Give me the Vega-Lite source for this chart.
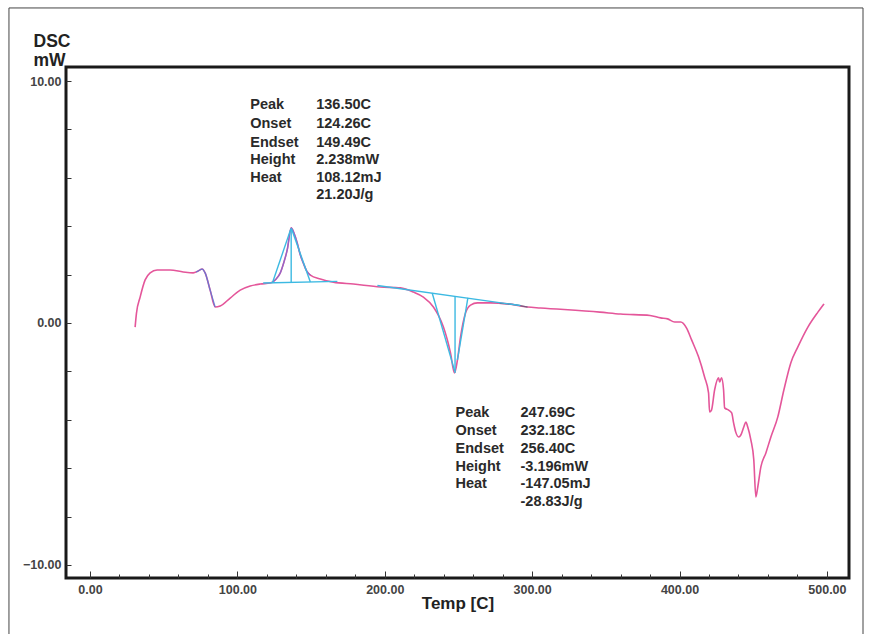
{
  "$schema": "https://vega.github.io/schema/vega-lite/v6.json",
  "width": 783,
  "height": 511,
  "autosize": {"type": "none"},
  "padding": {"left": 66, "top": 67, "right": 22, "bottom": 56},
  "background": "white",
  "config": {
    "view": {"stroke": "#1a1a1a", "strokeWidth": 3},
    "font": "Liberation Sans"
  },
  "resolve": {"axis": {"x": "independent"}},
  "datasets": {
    "curve": [
      {"T": 30.6, "v": -0.17}, {"T": 31.5, "v": 0.4}, {"T": 34.0, "v": 1.07}, {"T": 37.4, "v": 1.78},
      {"T": 40.8, "v": 2.07}, {"T": 45.5, "v": 2.19}, {"T": 54.3, "v": 2.19}, {"T": 63.2, "v": 2.11},
      {"T": 70.0, "v": 2.07}, {"T": 73.4, "v": 2.15}, {"T": 76.1, "v": 2.23}, {"T": 78.1, "v": 2.07},
      {"T": 81.5, "v": 1.36}, {"T": 84.9, "v": 0.66}, {"T": 88.3, "v": 0.70}, {"T": 95.1, "v": 1.03},
      {"T": 101.9, "v": 1.36}, {"T": 108.7, "v": 1.53}, {"T": 115.5, "v": 1.61}, {"T": 122.3, "v": 1.65},
      {"T": 126.0, "v": 1.8}, {"T": 129.1, "v": 2.07}, {"T": 131.5, "v": 2.5}, {"T": 133.8, "v": 3.02},
      {"T": 136.5, "v": 3.93}, {"T": 138.5, "v": 3.7}, {"T": 140.6, "v": 3.31}, {"T": 142.5, "v": 2.85},
      {"T": 144.7, "v": 2.48}, {"T": 147.0, "v": 2.15}, {"T": 149.5, "v": 1.98}, {"T": 156.3, "v": 1.82},
      {"T": 165.1, "v": 1.69}, {"T": 178.7, "v": 1.61}, {"T": 197.0, "v": 1.49}, {"T": 210.6, "v": 1.45},
      {"T": 219.4, "v": 1.28}, {"T": 226.2, "v": 1.07}, {"T": 233.0, "v": 0.66}, {"T": 236.5, "v": 0.3},
      {"T": 239.8, "v": -0.17}, {"T": 244.6, "v": -1.24}, {"T": 247.3, "v": -2.07}, {"T": 249.3, "v": -1.53},
      {"T": 251.4, "v": -0.58}, {"T": 254.8, "v": 0.41}, {"T": 258.2, "v": 0.74}, {"T": 262.9, "v": 0.83},
      {"T": 271.7, "v": 0.83}, {"T": 283.3, "v": 0.79}, {"T": 296.9, "v": 0.66}, {"T": 305.7, "v": 0.62},
      {"T": 346.0, "v": 0.45}, {"T": 360.0, "v": 0.37}, {"T": 380.0, "v": 0.31}, {"T": 387.2, "v": 0.21},
      {"T": 391.9, "v": 0.17}, {"T": 396.7, "v": 0.04}, {"T": 400.8, "v": 0.04}, {"T": 404.8, "v": -0.21},
      {"T": 408.2, "v": -0.70}, {"T": 412.9, "v": -1.40}, {"T": 417.0, "v": -2.23}, {"T": 419.7, "v": -2.89},
      {"T": 420.4, "v": -3.68}, {"T": 421.7, "v": -3.60}, {"T": 423.8, "v": -2.77}, {"T": 426.5, "v": -2.27},
      {"T": 427.2, "v": -2.44}, {"T": 428.5, "v": -2.27}, {"T": 429.9, "v": -2.77}, {"T": 430.6, "v": -3.51},
      {"T": 433.3, "v": -3.60}, {"T": 435.4, "v": -3.72}, {"T": 436.7, "v": -4.13}, {"T": 438.1, "v": -4.50},
      {"T": 440.2, "v": -4.71}, {"T": 441.6, "v": -4.63}, {"T": 443.6, "v": -4.30}, {"T": 445.0, "v": -4.09},
      {"T": 446.3, "v": -4.30}, {"T": 448.4, "v": -4.83}, {"T": 450.4, "v": -5.66}, {"T": 451.8, "v": -7.19},
      {"T": 453.1, "v": -6.78}, {"T": 455.2, "v": -5.95}, {"T": 458.6, "v": -5.37}, {"T": 462.0, "v": -4.71},
      {"T": 466.7, "v": -3.88}, {"T": 470.8, "v": -2.77}, {"T": 475.5, "v": -1.65}, {"T": 480.3, "v": -0.99},
      {"T": 487.1, "v": -0.17}, {"T": 493.9, "v": 0.45}, {"T": 498.0, "v": 0.79}
    ],
    "bump": [
      {"T": 72.0, "v": 2.1}, {"T": 73.4, "v": 2.15}, {"T": 76.1, "v": 2.23}, {"T": 78.1, "v": 2.07},
      {"T": 81.5, "v": 1.36}, {"T": 84.9, "v": 0.66}
    ],
    "peak1": [
      {"T": 124.3, "v": 1.7}, {"T": 126.0, "v": 1.8}, {"T": 129.1, "v": 2.07}, {"T": 131.5, "v": 2.5},
      {"T": 133.8, "v": 3.02}, {"T": 136.5, "v": 3.93}, {"T": 138.5, "v": 3.7}, {"T": 140.6, "v": 3.31},
      {"T": 142.5, "v": 2.85}, {"T": 144.7, "v": 2.48}, {"T": 147.0, "v": 2.15}, {"T": 149.5, "v": 1.98}
    ],
    "tail2": [
      {"T": 278.0, "v": 0.81}, {"T": 283.3, "v": 0.79}, {"T": 296.9, "v": 0.66}
    ],
    "rules": [
      {"T": 117.5, "v": 1.65, "T2": 167.8, "v2": 1.72},
      {"T": 136.5, "v": 1.67, "T2": 136.5, "v2": 3.93},
      {"T": 123.8, "v": 1.66, "T2": 136.2, "v2": 3.88},
      {"T": 149.5, "v": 1.69, "T2": 136.8, "v2": 3.88},
      {"T": 195.0, "v": 1.55, "T2": 292.0, "v2": 0.72},
      {"T": 247.69, "v": 1.11, "T2": 247.69, "v2": -2.07},
      {"T": 232.18, "v": 1.24, "T2": 247.5, "v2": -2.0},
      {"T": 256.4, "v": 1.04, "T2": 249.3, "v2": -1.53}
    ],
    "notes": [
      {"T": 108.7, "v": 9.01, "text": "Peak"},
      {"T": 108.7, "v": 8.22, "text": "Onset"},
      {"T": 108.7, "v": 7.44, "text": "Endset"},
      {"T": 108.7, "v": 6.74, "text": "Height"},
      {"T": 108.7, "v": 5.99, "text": "Heat"},
      {"T": 153.5, "v": 9.01, "text": "136.50C"},
      {"T": 153.5, "v": 8.22, "text": "124.26C"},
      {"T": 153.5, "v": 7.44, "text": "149.49C"},
      {"T": 153.5, "v": 6.74, "text": "2.238mW"},
      {"T": 153.5, "v": 5.99, "text": "108.12mJ"},
      {"T": 153.5, "v": 5.29, "text": "21.20J/g"},
      {"T": 248.0, "v": -3.72, "text": "Peak"},
      {"T": 248.0, "v": -4.46, "text": "Onset"},
      {"T": 248.0, "v": -5.21, "text": "Endset"},
      {"T": 248.0, "v": -5.95, "text": "Height"},
      {"T": 248.0, "v": -6.65, "text": "Heat"},
      {"T": 292.1, "v": -3.72, "text": "247.69C"},
      {"T": 292.1, "v": -4.46, "text": "232.18C"},
      {"T": 292.1, "v": -5.21, "text": "256.40C"},
      {"T": 292.1, "v": -5.95, "text": "-3.196mW"},
      {"T": 292.1, "v": -6.65, "text": "-147.05mJ"},
      {"T": 292.1, "v": -7.40, "text": "-28.83J/g"}
    ],
    "frame": [
      {"T": -55.0, "v": 13.02, "T2": 524.5, "v2": -12.95}
    ]
  },
  "layer": [
    {
      "data": {"name": "curve"},
      "mark": {"type": "line", "color": "#e4569a", "strokeWidth": 1.6, "interpolate": "monotone"},
      "encoding": {
        "x": {
          "field": "T", "type": "quantitative",
          "scale": {"domain": [-16.3, 515], "nice": false, "zero": false},
          "axis": {
            "orient": "bottom",
            "values": [0, 100, 200, 300, 400, 500],
            "format": ".2f",
            "tickSize": -7,
            "tickColor": "#333", "tickWidth": 1,
            "domain": false, "grid": false,
            "labelFont": "Liberation Sans", "labelFontWeight": "bold", "labelFontSize": 12.5, "labelColor": "#444",
            "labelPadding": 12, "labelFlush": false, "labelOverlap": false,
            "title": "Temp [C]", "titleFont": "Liberation Sans", "titleFontSize": 17, "titleFontWeight": "bold", "titleColor": "#222",
            "titlePadding": 0
          }
        },
        "y": {
          "field": "v", "type": "quantitative",
          "scale": {"domain": [-10.54, 10.58], "nice": false, "zero": false},
          "axis": {
            "values": [-10, -8, -6, -4, -2, 0, 2, 4, 6, 8, 10],
            "labelExpr": "datum.value % 10 === 0 ? format(datum.value, '.2f') : ''",
            "tickSize": -5, "tickColor": "#333", "tickWidth": 1,
            "domain": false, "grid": false,
            "labelFont": "Liberation Sans", "labelFontWeight": "bold", "labelFontSize": 12.5, "labelColor": "#444",
            "labelPadding": 10, "labelFlush": false, "labelOverlap": false, "labelBound": false,
            "title": ["DSC", "mW"], "titleAngle": 0, "titleAlign": "left", "titleBaseline": "top",
            "titleX": -33, "titleY": -35, "titleLineHeight": 19,
            "titleFont": "Liberation Sans", "titleFontSize": 17.5, "titleFontWeight": "bold", "titleColor": "#222"
          }
        }
      }
    },
    {
      "data": {"name": "bump"},
      "mark": {"type": "line", "color": "#5b78d6", "strokeWidth": 1.3, "opacity": 0.85, "interpolate": "monotone"},
      "encoding": {
        "x": {
          "field": "T", "type": "quantitative",
          "axis": {
            "orient": "bottom",
            "values": [20, 40, 60, 80, 120, 140, 160, 180, 220, 240, 260, 280, 320, 340, 360, 380, 420, 440, 460, 480],
            "labels": false, "tickSize": -4, "tickColor": "#333", "tickWidth": 1,
            "domain": false, "grid": false, "title": null
          }
        },
        "y": {"field": "v", "type": "quantitative"}
      }
    },
    {
      "data": {"name": "peak1"},
      "mark": {"type": "line", "color": "#7b6cd4", "strokeWidth": 1.3, "opacity": 0.8, "interpolate": "monotone"},
      "encoding": {"x": {"field": "T", "type": "quantitative", "axis": null}, "y": {"field": "v", "type": "quantitative"}}
    },
    {
      "data": {"name": "tail2"},
      "mark": {"type": "line", "color": "#5a5a78", "strokeWidth": 1.3, "opacity": 0.8, "interpolate": "monotone"},
      "encoding": {"x": {"field": "T", "type": "quantitative", "axis": null}, "y": {"field": "v", "type": "quantitative"}}
    },
    {
      "data": {"name": "rules"},
      "mark": {"type": "rule", "color": "#3cb9e2", "strokeWidth": 1.4},
      "encoding": {
        "x": {"field": "T", "type": "quantitative", "axis": null},
        "y": {"field": "v", "type": "quantitative"},
        "x2": {"field": "T2"},
        "y2": {"field": "v2"}
      }
    },
    {
      "data": {"name": "notes"},
      "mark": {"type": "text", "align": "left", "baseline": "middle", "font": "Liberation Sans", "fontWeight": "bold", "fontSize": 14.5, "color": "#2a2a2a"},
      "encoding": {
        "x": {"field": "T", "type": "quantitative", "axis": null},
        "y": {"field": "v", "type": "quantitative"},
        "text": {"field": "text"}
      }
    },
    {
      "data": {"name": "frame"},
      "mark": {"type": "rect", "fill": null, "fillOpacity": 0, "stroke": "#444", "strokeWidth": 1, "clip": false},
      "encoding": {
        "x": {"field": "T", "type": "quantitative", "axis": null},
        "y": {"field": "v", "type": "quantitative"},
        "x2": {"field": "T2"},
        "y2": {"field": "v2"}
      }
    }
  ]
}
